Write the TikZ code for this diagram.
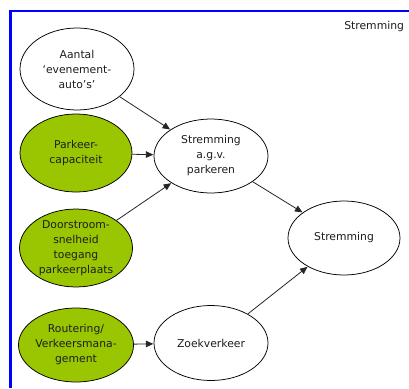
\documentclass[tikz,border=0pt]{standalone}
\usepackage{fontspec}
\setmainfont{DejaVu Sans}
\usetikzlibrary{shapes.geometric,arrows.meta}
\definecolor{leafgreen}{RGB}{153,198,0}
\definecolor{frameblue}{RGB}{0,0,255}
\definecolor{inktext}{RGB}{30,30,30}
\tikzset{
  factor/.style={ellipse, draw=black, line width=0.75pt, fill=white,
    minimum width=113pt, minimum height=76pt, inner sep=0pt,
    align=center, text=inktext, font=\fontsize{10.8}{15}\selectfont},
  lever/.style={factor, fill=leafgreen},
  link/.style={draw=black!85, line width=0.8pt,
    -{Triangle[length=7.5pt,width=6.5pt]}, shorten >=0.3pt},
}
\begin{document}
\begin{tikzpicture}[x=1pt,y=-1pt]
  \useasboundingbox (0,0) rectangle (409,388);
  \fill[white] (0,0) rectangle (409,388);
  % frame: top and left edge only
  \draw[frameblue, line width=2.6pt] (10.3,388) -- (10.3,11) -- (409,11);
  \node[anchor=east, text=inktext, font=\fontsize{10.8}{13}\selectfont] (title) at (407.5,27) {Stremming};

  \node[factor, minimum height=82pt, minimum width=114pt] (aantal) at (77,69) {Aantal\\‘evenement-\\auto’s’};
  \node[lever, minimum height=78pt, minimum width=112pt] (cap) at (76,153) {Parkeer-\\capaciteit};
  \node[lever, minimum height=72pt, minimum width=113pt] (door) at (76,248) {Doorstroom-\\snelheid\\toegang\\parkeerplaats};
  \node[lever, minimum height=74pt, minimum width=112pt] (rout) at (76,345) {Routering/\\Verkeersmana-\\gement};
  \node[factor, minimum height=74pt, minimum width=114pt] (agv) at (211,156) {Stremming\\a.g.v.\\parkeren};
  \node[factor, minimum height=75pt, minimum width=114pt] (zoek) at (211,343) {Zoekverkeer};
  \node[factor, minimum height=74pt, minimum width=112pt] (strem) at (344,238) {Stremming};

  \draw[link] (aantal) -- (agv);
  \draw[link] (cap) -- (agv);
  \draw[link] (door) -- (agv);
  \draw[link] (agv) -- (strem);
  \draw[link] (rout) -- (zoek);
  \draw[link] (zoek) -- (strem);
\end{tikzpicture}
\end{document}
